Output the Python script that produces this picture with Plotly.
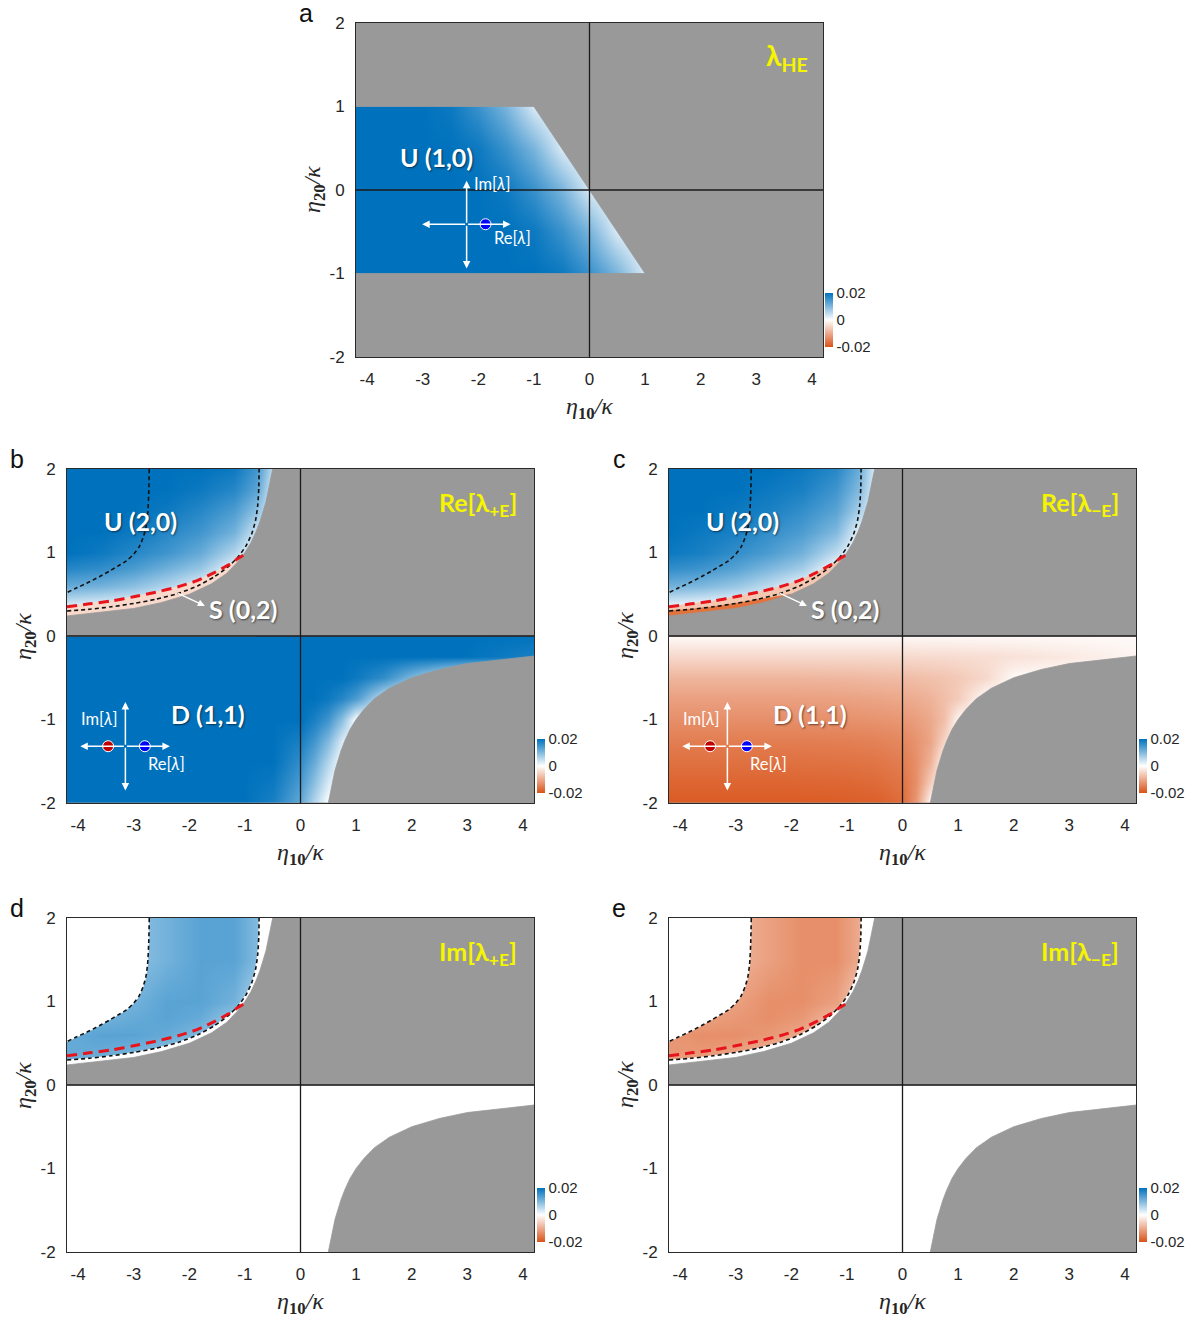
import plotly.graph_objects as go

# ---------------- data ----------------
X_TICKS = [-4, -3, -2, -1, 0, 1, 2, 3, 4]
X_TICK_TEXT = ["-4", "-3", "-2", "-1", "0", "1", "2", "3", "4"]
Y_TICKS = [-2, -1, 0, 1, 2]
Y_TICK_TEXT = ["-2", "-1", "0", "1", "2"]
CB_TICKS = [0.02, 0.0, -0.02]
CB_TICK_TEXT = ["0.02", "0", "-0.02"]
X_RANGE = [-4.2, 4.2]
Y_RANGE = [-2.0, 2.0]

# panel a : lambda_HE (stable band |eta20|<=1, edge eta10 = -eta20)
A_X = [-4.5, -4.0, -3.5, -3.0, -2.5, -2.0, -1.5, -1.0, -0.5, 0.0, 0.5, 1.0, 1.5]
A_Y = [-1.0, -0.5, 0.0, 0.5, 1.0]
A_Z = [
    [.020, .020, .020, .020, .020, .020, .020, .020, .019, .0155, .0105, .003, 0.0],
    [.020, .020, .020, .020, .020, .020, .020, .019, .0155, .0105, .003, 0.0, 0.0],
    [.020, .020, .020, .020, .020, .020, .019, .0155, .0105, .003, 0.0, 0.0, 0.0],
    [.020, .020, .020, .020, .020, .019, .0155, .0105, .003, 0.0, 0.0, 0.0, 0.0],
    [.020, .020, .020, .020, .019, .0155, .0105, .003, 0.0, 0.0, 0.0, 0.0, 0.0],
]
A_EDGE_X = [1.0, -1.0]
A_EDGE_Y = [-1.0, 1.0]

# boundaries for panels b-e
BND_UP_X = [-0.50, -0.53, -0.57, -0.62, -0.67, -0.73, -0.80, -0.89, -1.00, -1.14, -1.33,
            -1.60, -2.00, -2.50, -3.00, -3.50, -4.20]
BND_UP_Y = [2.00, 1.89, 1.75, 1.61, 1.50, 1.37, 1.25, 1.12, 1.00, 0.88, 0.75,
            0.625, 0.50, 0.40, 0.33, 0.29, 0.24]
BND_LO_X = [0.50, 0.53, 0.57, 0.62, 0.67, 0.73, 0.80, 0.89, 1.00, 1.14, 1.33,
            1.60, 2.00, 2.50, 3.00, 3.50, 4.20]
BND_LO_Y = [-2.00, -1.89, -1.75, -1.61, -1.50, -1.37, -1.25, -1.12, -1.00, -0.88, -0.75,
            -0.625, -0.50, -0.40, -0.33, -0.29, -0.24]
LEFT_DASH_X = [-2.72, -2.73, -2.75, -2.78, -2.83, -2.90, -3.00, -3.13, -3.28, -3.43, -3.62,
               -3.85, -4.05, -4.20]
LEFT_DASH_Y = [2.00, 1.70, 1.45, 1.30, 1.18, 1.07, 0.98, 0.90, 0.84, 0.78, 0.71,
               0.63, 0.57, 0.52]
NEAR_DASH_X = [-4.20, -3.80, -3.40, -3.00, -2.60, -2.20, -1.85, -1.55, -1.30, -1.12, -0.98,
               -0.88, -0.81, -0.77, -0.75, -0.745]
NEAR_DASH_Y = [0.30, 0.32, 0.35, 0.39, 0.44, 0.51, 0.60, 0.71, 0.83, 0.95, 1.08,
               1.22, 1.38, 1.56, 1.78, 2.00]
RED_DASH_X = [-4.20, -3.80, -3.40, -3.00, -2.60, -2.20, -1.85, -1.55, -1.30, -1.12, -1.00]
RED_DASH_Y = [0.35, 0.385, 0.42, 0.47, 0.525, 0.59, 0.665, 0.76, 0.85, 0.93, 0.98]
C_STRIP_X = [-4.20, -3.80, -3.40, -3.00, -2.00]
C_STRIP_Y = [0.30, 0.32, 0.35, 0.39, 0.50]

# upper-half grid (eta20 > 0)
UP_X = [-4.2, -3.6, -3.0, -2.4, -1.8, -1.2, -0.8, -0.4, 0.0]
UP_Y = [0.2, 0.4, 0.6, 0.8, 1.0, 1.25, 1.5, 1.75, 2.0]
# lower-half grid (eta20 < 0)
LO_X = [-4.2, -3.0, -2.0, -1.0, -0.5, 0.0, 0.25, 0.5, 0.75, 1.0, 1.5, 2.0, 3.0, 4.2]
LO_Y = [-2.0, -1.75, -1.5, -1.25, -1.0, -0.75, -0.5, -0.25, 0.0]

B_UP = [
    [0.000, 0.000, 0.000, 0.000, 0.000, 0.000, 0.000, 0.000, 0.000],
    [0.004, 0.003, 0.002, 0.000, 0.000, 0.000, 0.000, 0.000, 0.000],
    [0.012, 0.011, 0.009, 0.006, 0.002, 0.000, 0.000, 0.000, 0.000],
    [0.017, 0.016, 0.014, 0.011, 0.008, 0.001, 0.000, 0.000, 0.000],
    [0.020, 0.019, 0.017, 0.015, 0.012, 0.006, 0.000, 0.000, 0.000],
    [0.020, 0.020, 0.019, 0.017, 0.015, 0.011, 0.004, 0.000, 0.000],
    [0.020, 0.020, 0.020, 0.019, 0.017, 0.014, 0.009, 0.000, 0.000],
    [0.020, 0.020, 0.020, 0.020, 0.019, 0.017, 0.013, 0.000, 0.000],
    [0.020, 0.020, 0.020, 0.020, 0.020, 0.019, 0.015, 0.002, 0.000],
]
B_LO = [
    [.020, .020, .020, .020, .018, .012, .006, .000, 0, 0, 0, 0, 0, 0],
    [.020, .020, .020, .020, .019, .014, .009, .003, 0, 0, 0, 0, 0, 0],
    [.020, .020, .020, .020, .020, .016, .012, .006, 0, 0, 0, 0, 0, 0],
    [.020, .020, .020, .020, .020, .018, .015, .010, .003, 0, 0, 0, 0, 0],
    [.020, .020, .020, .020, .020, .020, .018, .015, .009, 0, 0, 0, 0, 0],
    [.020, .020, .020, .020, .020, .020, .020, .019, .017, .014, .004, 0, 0, 0],
    [.020, .020, .020, .020, .020, .020, .020, .020, .020, .019, .016, .010, 0, 0],
    [.020, .020, .020, .020, .020, .020, .020, .020, .020, .020, .020, .020, .020, .018],
    [.020, .020, .020, .020, .020, .020, .020, .020, .020, .020, .020, .020, .020, .020],
]
C_UP = [
    [0.000, 0.000, 0.000, 0.000, 0.000, 0.000, 0.000, 0.000, 0.000],
    [0.003, 0.002, 0.001, 0.000, 0.000, 0.000, 0.000, 0.000, 0.000],
    [0.011, 0.010, 0.008, 0.005, 0.001, 0.000, 0.000, 0.000, 0.000],
    [0.016, 0.015, 0.013, 0.010, 0.007, 0.000, 0.000, 0.000, 0.000],
    [0.019, 0.018, 0.016, 0.014, 0.011, 0.005, 0.000, 0.000, 0.000],
    [0.020, 0.019, 0.018, 0.016, 0.014, 0.010, 0.002, 0.000, 0.000],
    [0.020, 0.020, 0.019, 0.018, 0.016, 0.013, 0.007, 0.000, 0.000],
    [0.020, 0.020, 0.020, 0.019, 0.018, 0.015, 0.010, 0.000, 0.000],
    [0.020, 0.020, 0.020, 0.020, 0.019, 0.017, 0.012, 0.000, 0.000],
]
C_LO = [
    [-.0190, -.0190, -.0190, -.0188, -.0185, -.0170, -.0120, -.0010, 0, 0, 0, 0, 0, 0],
    [-.0178, -.0178, -.0178, -.0176, -.0172, -.0160, -.0130, -.0060, 0, 0, 0, 0, 0, 0],
    [-.0165, -.0165, -.0165, -.0163, -.0160, -.0150, -.0130, -.0090, -.0010, 0, 0, 0, 0, 0],
    [-.0150, -.0150, -.0150, -.0148, -.0145, -.0138, -.0125, -.0105, -.0050, 0, 0, 0, 0, 0],
    [-.0130, -.0130, -.0130, -.0128, -.0125, -.0120, -.0112, -.0100, -.0075, -.0010, 0, 0, 0, 0],
    [-.0110, -.0110, -.0110, -.0108, -.0105, -.0100, -.0095, -.0088, -.0075, -.0060, 0, 0, 0, 0],
    [-.0085, -.0085, -.0085, -.0083, -.0080, -.0078, -.0075, -.0072, -.0068, -.0062, -.0045, -.0005, 0, 0],
    [-.0045, -.0045, -.0045, -.0045, -.0045, -.0044, -.0043, -.0042, -.0042, -.0040, -.0038, -.0034, -.0025, -.0012],
    [-.0006, -.0006, -.0006, -.0006, -.0006, -.0006, -.0006, -.0006, -.0006, -.0006, -.0006, -.0006, -.0006, -.0006],
]
D_UP = [
    [0.010, 0.010, 0.009, 0.007, 0.004, 0.000, 0.000, 0.000, 0.000],
    [0.012, 0.012, 0.011, 0.009, 0.006, 0.002, 0.000, 0.000, 0.000],
    [0.012, 0.013, 0.013, 0.012, 0.010, 0.005, 0.001, 0.000, 0.000],
    [0.010, 0.011, 0.012, 0.013, 0.012, 0.008, 0.004, 0.000, 0.000],
    [0.009, 0.010, 0.011, 0.013, 0.013, 0.011, 0.006, 0.000, 0.000],
    [0.008, 0.009, 0.010, 0.012, 0.013, 0.012, 0.008, 0.003, 0.000],
    [0.008, 0.008, 0.009, 0.011, 0.013, 0.013, 0.010, 0.004, 0.000],
    [0.008, 0.008, 0.009, 0.011, 0.013, 0.013, 0.010, 0.004, 0.000],
    [0.008, 0.008, 0.009, 0.011, 0.013, 0.013, 0.010, 0.004, 0.000],
]
E_UP = [
    [-0.010, -0.010, -0.009, -0.007, -0.004, 0.000, 0.000, 0.000, 0.000],
    [-0.012, -0.012, -0.011, -0.009, -0.006, -0.002, 0.000, 0.000, 0.000],
    [-0.012, -0.013, -0.013, -0.012, -0.010, -0.005, -0.001, 0.000, 0.000],
    [-0.010, -0.011, -0.012, -0.013, -0.012, -0.008, -0.004, 0.000, 0.000],
    [-0.009, -0.010, -0.011, -0.013, -0.013, -0.011, -0.006, 0.000, 0.000],
    [-0.008, -0.009, -0.010, -0.012, -0.013, -0.012, -0.008, -0.003, 0.000],
    [-0.008, -0.008, -0.009, -0.011, -0.013, -0.013, -0.010, -0.004, 0.000],
    [-0.008, -0.008, -0.009, -0.011, -0.013, -0.013, -0.010, -0.004, 0.000],
    [-0.008, -0.008, -0.009, -0.011, -0.013, -0.013, -0.010, -0.004, 0.000],
]
IM_LO_X = [-4.2, 4.2]
IM_LO_Y = [-2.0, -1.0, 0.0]
IM_LO_Z = [[0.0, 0.0], [0.0, 0.0], [0.0, 0.0]]

# ---------------- styling ----------------
W, H = 1204, 1322
GRAY = "#999999"
CSCALE = [[0.0, "#D95319"], [0.5, "#FFFFFF"], [1.0, "#0072BD"]]
LABEL_FONT = "Lato, 'Open Sans', sans-serif"
TICK_FONT = "'Liberation Sans', Arial, sans-serif"
MATH_FONT = "'Liberation Serif', 'DejaVu Serif', serif"
XL, XR, YT, YB = -4.6, 4.6, 2.3, -2.3
SHADOW = "1px 1px 2px rgba(0,0,0,0.55)"


def px2x(p):
    return p / W


def px2y(p):
    return 1 - p / H


PANELS = {
    "a": dict(n="", xdom=[px2x(356), px2x(823)], ydom=[px2y(357), px2y(23)], cb=(px2x(825), px2y(320))),
    "b": dict(n="2", xdom=[px2x(67), px2x(534)], ydom=[px2y(803), px2y(469)], cb=(px2x(537), px2y(766))),
    "c": dict(n="3", xdom=[px2x(669), px2x(1136)], ydom=[px2y(803), px2y(469)], cb=(px2x(1139), px2y(766))),
    "d": dict(n="4", xdom=[px2x(67), px2x(534)], ydom=[px2y(1252), px2y(918)], cb=(px2x(537), px2y(1215))),
    "e": dict(n="5", xdom=[px2x(669), px2x(1136)], ydom=[px2y(1252), px2y(918)], cb=(px2x(1139), px2y(1215))),
}

fig = go.Figure()
annotations = []
shapes = []
layout = dict(width=W, height=H, margin=dict(l=0, r=0, t=0, b=0, autoexpand=False),
              paper_bgcolor="white", plot_bgcolor=GRAY, showlegend=False)


def refs(key):
    n = PANELS[key]["n"]
    return "x" + n, "y" + n


def heat(key, x, y, z):
    xr, yr = refs(key)
    n = PANELS[key]["n"]
    fig.add_trace(go.Heatmap(x=x, y=y, z=z, xaxis=xr, yaxis=yr, coloraxis="coloraxis" + n,
                             zsmooth="best", hoverinfo="skip"))


def poly(key, x, y, color):
    xr, yr = refs(key)
    fig.add_trace(go.Scatter(x=x, y=y, mode="lines", fill="toself", fillcolor=color,
                             line=dict(width=0.8, color=color), xaxis=xr, yaxis=yr,
                             hoverinfo="skip", showlegend=False))


def dline(key, x, y, color, width, dash):
    xr, yr = refs(key)
    fig.add_trace(go.Scatter(x=x, y=y, mode="lines",
                             line=dict(color=color, width=width, dash=dash, shape="spline", smoothing=0.6),
                             xaxis=xr, yaxis=yr, hoverinfo="skip", showlegend=False))


def txt(key, x, y, s, size, color="white", xanchor="center", bold=True, shadow=True):
    xr, yr = refs(key)
    f = dict(family=LABEL_FONT, size=size, color=color)
    if shadow:
        f["shadow"] = SHADOW
    annotations.append(dict(xref=xr, yref=yr, x=x, y=y, text=("<b>%s</b>" % s) if bold else s,
                            showarrow=False, xanchor=xanchor, yanchor="middle", font=f))


def arrow(key, x, y, ax, ay, width=1.5):
    xr, yr = refs(key)
    annotations.append(dict(xref=xr, yref=yr, axref=xr, ayref=yr, x=x, y=y, ax=ax, ay=ay, text="",
                            showarrow=True, arrowhead=2, arrowsize=1.0, arrowwidth=width,
                            arrowcolor="white", standoff=0, startstandoff=0))


def inset(key, cx, cy, left, right, top, bot, dots, im_pos, re_pos):
    arrow(key, left, cy, cx, cy)
    arrow(key, right, cy, cx, cy)
    arrow(key, cx, top, cx, cy)
    arrow(key, cx, bot, cx, cy)
    xr, yr = refs(key)
    for dx, col in dots:
        fig.add_trace(go.Scatter(x=[dx], y=[cy], mode="markers", xaxis=xr, yaxis=yr,
                                 marker=dict(size=11, color=col, line=dict(color="white", width=1)),
                                 hoverinfo="skip", showlegend=False))
    txt(key, im_pos[0], im_pos[1], "Im[<i>λ</i>]", 16.5, xanchor=im_pos[2], bold=False, shadow=False)
    txt(key, re_pos[0], re_pos[1], "Re[<i>λ</i>]", 16.5, xanchor=re_pos[2], bold=False, shadow=False)


# axes
for key, p in PANELS.items():
    n = p["n"]
    common = dict(showgrid=False, zeroline=False, showline=True, mirror=True, linecolor="#2a2a2a",
                  linewidth=1, ticks="", fixedrange=True, ticklabelstandoff=7,
                  tickfont=dict(family=TICK_FONT, size=17, color="#262626"))
    layout["xaxis" + n] = dict(domain=p["xdom"], range=X_RANGE, tickvals=X_TICKS, ticktext=X_TICK_TEXT,
                               anchor="y" + n, **common)
    layout["yaxis" + n] = dict(domain=p["ydom"], range=Y_RANGE, tickvals=Y_TICKS, ticktext=Y_TICK_TEXT,
                               anchor="x" + n, **common)
    layout["coloraxis" + n] = dict(
        cmin=-0.02, cmax=0.02, colorscale=CSCALE,
        colorbar=dict(x=p["cb"][0], xanchor="left", y=p["cb"][1], yanchor="middle", len=54,
                      lenmode="pixels", thickness=8, thicknessmode="pixels", xpad=0, ypad=0,
                      outlinewidth=0, tickvals=CB_TICKS, ticktext=CB_TICK_TEXT, ticks="",
                      tickfont=dict(family=TICK_FONT, size=15, color="#262626")))
    # crosshair lines at eta10 = 0 and eta20 = 0
    shapes.append(dict(type="line", xref="x" + n, yref="y%s domain" % n, x0=0, x1=0, y0=0, y1=1,
                       line=dict(color="#1a1a1a", width=1.3)))
    shapes.append(dict(type="line", xref="x%s domain" % n, yref="y" + n, x0=0, x1=1, y0=0, y1=0,
                       line=dict(color="#1a1a1a", width=1.3)))
    # axis titles
    xc = (p["xdom"][0] + p["xdom"][1]) / 2
    yc = (p["ydom"][0] + p["ydom"][1]) / 2
    annotations.append(dict(xref="paper", yref="paper", x=xc, y=p["ydom"][0] - 51 / H,
                            text="<i>η</i><sub><b>10</b></sub><i>/κ</i>", showarrow=False,
                            xanchor="center", yanchor="middle",
                            font=dict(family=MATH_FONT, size=24, color="#262626")))
    annotations.append(dict(xref="paper", yref="paper", x=p["xdom"][0] - 42 / W, y=yc,
                            text="<i>η</i><sub><b>20</b></sub><i>/κ</i>", showarrow=False,
                            textangle=-90, xanchor="center", yanchor="middle",
                            font=dict(family=MATH_FONT, size=24, color="#262626")))
    # panel letter
    annotations.append(dict(xref="paper", yref="paper", x=p["xdom"][0] - 50 / W, y=p["ydom"][1] + 10 / H,
                            text=key, showarrow=False, xanchor="center", yanchor="middle",
                            font=dict(family=TICK_FONT, size=25, color="#111111")))

# ---------------- panel a ----------------
heat("a", A_X, A_Y, A_Z)
poly("a", [XL, XR, XR, XL, XL, A_EDGE_X[0], A_EDGE_X[1], XL],
     [YT, YT, YB, YB, A_EDGE_Y[0], A_EDGE_Y[0], A_EDGE_Y[1], A_EDGE_Y[1]], GRAY)
txt("a", -2.75, 0.40, "U (1,0)", 25)
txt("a", 3.97, 1.59, "λ<sub>HE</sub>", 28, color="#F5F500", xanchor="right", shadow=False)
inset("a", -2.21, -0.41, -3.01, -1.42, 0.11, -0.94, [(-1.87, "#0000FF")],
      (-2.12, 0.07, "left"), (-1.76, -0.57, "left"))

# ---------------- panels b - e ----------------
UPPER_GRAY_X = [XR, BND_UP_X[0]] + BND_UP_X + [XL, XL, XR]
UPPER_GRAY_Y = [YT, YT] + BND_UP_Y + [BND_UP_Y[-1], 0.0, 0.0]
LOWER_GRAY_X = BND_LO_X + [XR, XR, BND_LO_X[0]]
LOWER_GRAY_Y = BND_LO_Y + [BND_LO_Y[-1], YB, YB]
S_BAND_X = [XL] + RED_DASH_X + [RED_DASH_X[-1] + 0.2, RED_DASH_X[-1] + 0.2, XL]
S_BAND_Y = [RED_DASH_Y[0]] + RED_DASH_Y + [RED_DASH_Y[-1] - 0.2, 0.0, 0.0]
C_STRIP_PX = [XL] + C_STRIP_X + [C_STRIP_X[-1], XL]
C_STRIP_PY = [C_STRIP_Y[0]] + C_STRIP_Y + [0.0, 0.0]
WHITE_LEFT_X = [LEFT_DASH_X[0]] + LEFT_DASH_X + [XL, XL]
WHITE_LEFT_Y = [YT] + LEFT_DASH_Y + [LEFT_DASH_Y[-1], YT]
WHITE_STRIP_X = [XL] + NEAR_DASH_X + [NEAR_DASH_X[-1], 0.0, 0.0, XL]
WHITE_STRIP_Y = [NEAR_DASH_Y[0]] + NEAR_DASH_Y + [YT, YT, 0.0, 0.0]

specs = {
    "b": dict(lo=B_LO, up=B_UP, title="Re[λ<sub>+E</sub>]"),
    "c": dict(lo=C_LO, up=C_UP, title="Re[λ<sub>−E</sub>]"),
    "d": dict(lo=None, up=D_UP, title="Im[λ<sub>+E</sub>]"),
    "e": dict(lo=None, up=E_UP, title="Im[λ<sub>−E</sub>]"),
}

for key, s in specs.items():
    if s["lo"] is not None:
        heat(key, LO_X, LO_Y, s["lo"])
    else:
        heat(key, IM_LO_X, IM_LO_Y, IM_LO_Z)
    heat(key, UP_X, UP_Y, s["up"])
    if key == "b":
        poly(key, S_BAND_X, S_BAND_Y, "#F8D9CB")
    if key == "c":
        poly(key, S_BAND_X, S_BAND_Y, "#F4C7B1")
        poly(key, C_STRIP_PX, C_STRIP_PY, "#E3733D")
    if key in ("d", "e"):
        poly(key, WHITE_LEFT_X, WHITE_LEFT_Y, "#FFFFFF")
        poly(key, WHITE_STRIP_X, WHITE_STRIP_Y, "#FFFFFF")
    poly(key, UPPER_GRAY_X, UPPER_GRAY_Y, GRAY)
    poly(key, LOWER_GRAY_X, LOWER_GRAY_Y, GRAY)
    dline(key, LEFT_DASH_X, LEFT_DASH_Y, "#111111", 1.6, "4px,3px")
    dline(key, NEAR_DASH_X, NEAR_DASH_Y, "#111111", 1.6, "4px,3px")
    dline(key, RED_DASH_X, RED_DASH_Y, "#E8141C", 3.0, "10px,6px")
    txt(key, 3.93, 1.58, s["title"], 25, color="#F5F500", xanchor="right", shadow=False)
    if key in ("b", "c"):
        txt(key, -2.88, 1.38, "U (2,0)", 25)
        txt(key, -1.03, 0.32, "S (0,2)", 25)
        arrow(key, -1.72, 0.36, -2.23, 0.52, width=1.4)
        txt(key, -1.66, -0.93, "D (1,1)", 25)
        inset(key, -3.15, -1.32, -3.96, -2.35, -0.79, -1.85,
              [(-3.46, "#C00000"), (-2.80, "#0000FF")],
              (-3.27, -0.99, "right"), (-2.78, -1.53, "left"))

layout["annotations"] = annotations
layout["shapes"] = shapes
fig.update_layout(**layout)
fig.write_html("out.html")
